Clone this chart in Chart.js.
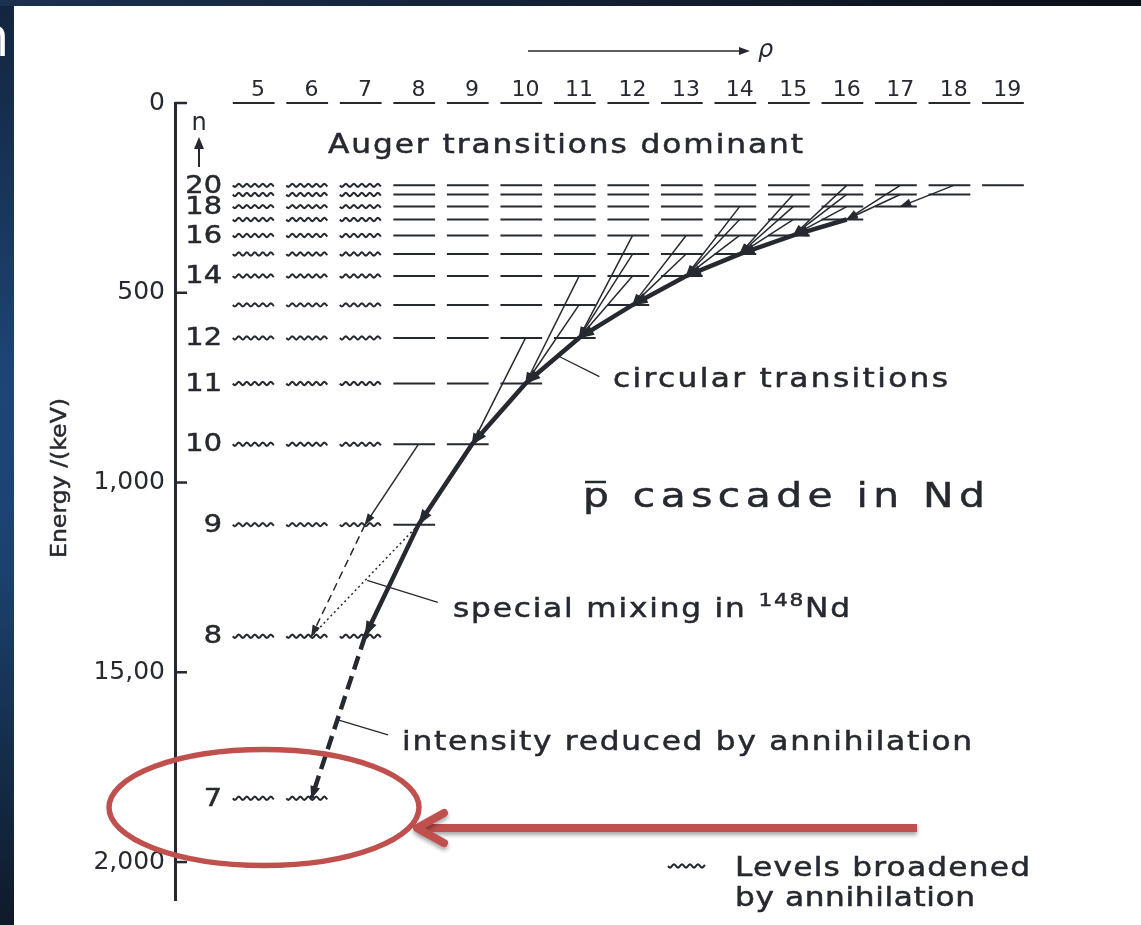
<!DOCTYPE html>
<html>
<head>
<meta charset="utf-8">
<script src="https://cdn.jsdelivr.net/npm/chart.js@4.4.1/dist/chart.umd.min.js"></script>
<style>
  html, body { margin: 0; padding: 0; }
  body {
    width: 1141px; height: 925px; overflow: hidden; position: relative;
    background: linear-gradient(to bottom, #14243d 0%, #1d4677 42%, #1b416e 62%, #0f1a29 100%);
  }
  #topband { position: absolute; left: 0; top: 0; width: 1141px; height: 6px;
    background: linear-gradient(to right, #1b3150, #0b0f17); }
  #panel { position: absolute; left: 14px; top: 6px; right: 0; bottom: 0; background: #fff; }
  #cascade { position: absolute; left: 0; top: 0; }
</style>
</head>
<body>
<div id="topband"></div>
<div id="panel"></div>
<canvas id="cascade" width="1141" height="925"></canvas>
<script>
// principal quantum number of each level row and its energy in keV (0 at the top)
const levelN = [20, 19, 18, 17, 16, 15, 14, 13, 12, 11, 10, 9, 8, 7];
const levelE = [217, 241, 273, 307, 349, 398, 456, 532, 619, 739, 899, 1111, 1405, 1832];
const labelledN = [20, 18, 16, 14, 12, 11, 10, 9, 8, 7];

// angular momentum columns along the top
const columnL = [5, 6, 7, 8, 9, 10, 11, 12, 13, 14, 15, 16, 17, 18, 19];
const columnLabels = ['5', '6', '7', '8', '9', '10', '11', '12', '13', '14', '15', '16', '17', '18', '19'];
const broadenedMaxL = 7;   // levels with l <= 7 are drawn wavy

const energyTicks = [0, 500, 1000, 1500, 2000];
const energyTickLabels = ['0', '500', '1,000', '15,00', '2,000'];

// transitions as [n, l] points
const circularPath = [[17, 16], [16, 15], [15, 14], [14, 13], [13, 12], [12, 11], [11, 10], [10, 9], [9, 8], [8, 7]];
const annihilationStep = [[8, 7], [7, 6]];
const feedLines = [
  [[10, 8], [9, 7]],
  [[12, 10], [10, 9]],
  [[13, 11], [11, 10]], [[14, 11], [11, 10]],
  [[14, 12], [12, 11]], [[15, 12], [12, 11]], [[16, 12], [12, 11]],
  [[15, 13], [13, 12]], [[16, 13], [13, 12]],
  [[16, 14], [14, 13]], [[17, 14], [14, 13]], [[18, 14], [14, 13]],
  [[17, 15], [15, 14]], [[18, 15], [15, 14]], [[19, 15], [15, 14]],
  [[18, 16], [16, 15]], [[19, 16], [16, 15]], [[20, 16], [16, 15]],
  [[19, 17], [17, 16]], [[20, 17], [17, 16]],
  [[20, 18], [18, 17]]
];
const dashedLines = [[[9, 7], [8, 6]]];
const dottedLines = [[[9, 8], [8, 6]]];

// leader lines for the notes, in (l, keV)
const leaders = [
  [[10.60, 666], [11.38, 721]],
  [[7.04, 1258], [8.36, 1316]],
  [[6.48, 1625], [7.43, 1665]]
];

const INK = '#26292f';
const FONT = '"DejaVu Sans", sans-serif';
const SEG_L = 0.47, SEG_R = 0.31;   // level segment extent around a column

function energyOf(n) { return levelE[levelN.indexOf(n)]; }

function straightRow(e, ls) {
  const data = [];
  ls.forEach(l => {
    data.push({ x: l - SEG_L, y: e }, { x: l + SEG_R, y: e }, { x: l + 0.4, y: null });
  });
  return { data, borderColor: INK, borderWidth: 2, pointRadius: 0, spanGaps: false, clip: false };
}

function path(points, width, dash, head) {
  return {
    data: points.map(([n, l]) => ({ x: l, y: energyOf(n) })),
    borderColor: INK, borderWidth: width, borderDash: dash, pointRadius: 0, clip: false,
    borderCapStyle: 'butt', borderJoinStyle: 'miter',
    arrowLen: head[0], arrowHalf: head[1]
  };
}

const datasets = [];
datasets.push(straightRow(0, columnL));
levelN.forEach((n, i) => {
  datasets.push(straightRow(levelE[i], columnL.filter(l => l > broadenedMaxL && l < n)));
});
datasets.push(path(circularPath, 4.5, [], [15, 5.5]));
datasets.push(path(annihilationStep, 4.5, [14, 7], [12, 5]));
feedLines.forEach(p => datasets.push(path(p, 1.5, [], [11, 4])));
dashedLines.forEach(p => datasets.push(path(p, 1.5, [8, 5], [11, 4])));
dottedLines.forEach(p => datasets.push(path(p, 1.5, [2, 3], [0, 0])));

function wave(ctx, x0, x1, yy) {
  ctx.beginPath();
  for (let px = x0; px <= x1; px += 1) {
    const dy = 1.6 * Math.sin((px - x0) / 8 * 2 * Math.PI);
    if (px === x0) ctx.moveTo(px, yy + dy); else ctx.lineTo(px, yy + dy);
  }
  ctx.stroke();
}

function arrowHead(ctx, x0, y0, x1, y1, len, half) {
  const a = Math.atan2(y1 - y0, x1 - x0);
  ctx.save();
  ctx.translate(x1, y1);
  ctx.rotate(a);
  ctx.beginPath();
  ctx.moveTo(1, 0);
  ctx.lineTo(-len, half);
  ctx.lineTo(-len, -half);
  ctx.closePath();
  ctx.fill();
  ctx.restore();
}

// wide lettering: glyphs stretched sideways, then spaced out to the given width.
// runs are [text, size, rise]
function spaced(ctx, runs, x, base, width, maxStretch) {
  ctx.letterSpacing = '0px';
  let natural = 0, count = 0;
  const widths = runs.map(r => {
    ctx.font = r[1] + 'px ' + FONT;
    const w = ctx.measureText(r[0]).width;
    natural += w; count += r[0].length;
    return w;
  });
  const stretch = Math.min(width / natural, maxStretch || 1.2);
  const ls = (width - natural * stretch) / (count - 1) / stretch;
  ctx.save();
  ctx.translate(x, base);
  ctx.scale(stretch, 1);
  ctx.lineWidth = 0.5;
  let cx = 0;
  runs.forEach((r, i) => {
    ctx.font = r[1] + 'px ' + FONT;
    ctx.letterSpacing = ls + 'px';
    ctx.fillText(r[0], cx, -(r[2] || 0));
    ctx.strokeText(r[0], cx, -(r[2] || 0));
    cx += widths[i] + ls * r[0].length;
  });
  ctx.restore();
  ctx.letterSpacing = '0px';
}

const cascadeArt = {
  id: 'cascadeArt',
  beforeDatasetsDraw(chart) {
    const { ctx, scales: { x, y } } = chart;
    ctx.save();
    ctx.strokeStyle = INK;
    ctx.lineWidth = 2;
    levelN.forEach((n, i) => {
      columnL.filter(l => l <= broadenedMaxL && l < n).forEach(l => {
        wave(ctx, x.getPixelForValue(l - SEG_L), x.getPixelForValue(l + SEG_R), y.getPixelForValue(levelE[i]));
      });
    });
    ctx.restore();
  },
  afterDatasetsDraw(chart) {
    const ctx = chart.ctx;
    ctx.save();
    ctx.fillStyle = INK;
    chart.data.datasets.forEach((ds, i) => {
      if (!ds.arrowLen) return;
      const pts = chart.getDatasetMeta(i).data;
      for (let j = 1; j < pts.length; j++) {
        arrowHead(ctx, pts[j - 1].x, pts[j - 1].y, pts[j].x, pts[j].y, ds.arrowLen, ds.arrowHalf);
      }
    });
    ctx.restore();
  },
  afterDraw(chart) {
    const { ctx, scales: { x, y } } = chart;
    const ax = chart.chartArea.left;
    ctx.save();
    ctx.strokeStyle = INK;
    ctx.fillStyle = INK;

    // inward ticks on the energy axis
    ctx.lineWidth = 2.5;
    energyTicks.forEach(v => {
      const yy = y.getPixelForValue(v);
      ctx.beginPath(); ctx.moveTo(ax, yy); ctx.lineTo(ax + 12, yy); ctx.stroke();
    });

    // n labels
    ctx.font = '24px ' + FONT;
    ctx.textAlign = 'right';
    ctx.textBaseline = 'middle';
    ctx.lineWidth = 0.5;
    labelledN.forEach(n => {
      ctx.save();
      ctx.translate(222, y.getPixelForValue(energyOf(n)) + 1);
      ctx.scale(1.2, 1);
      ctx.fillText(String(n), 0, 0);
      ctx.strokeText(String(n), 0, 0);
      ctx.restore();
    });

    // n with upward arrow
    ctx.textAlign = 'center';
    ctx.fillText('n', 199, 124);
    ctx.lineWidth = 2;
    ctx.beginPath(); ctx.moveTo(199, 167); ctx.lineTo(199, 146); ctx.stroke();
    ctx.beginPath(); ctx.moveTo(199, 137); ctx.lineTo(194, 149); ctx.lineTo(204, 149); ctx.closePath(); ctx.fill();

    // rho arrow over the columns
    ctx.lineWidth = 1.5;
    ctx.beginPath(); ctx.moveTo(528, 51); ctx.lineTo(742, 51); ctx.stroke();
    ctx.beginPath(); ctx.moveTo(750, 51); ctx.lineTo(739, 47); ctx.lineTo(739, 55); ctx.closePath(); ctx.fill();
    ctx.font = 'italic 24px ' + FONT;
    ctx.textAlign = 'left';
    ctx.textBaseline = 'alphabetic';
    ctx.fillText('\u03c1', 758, 57);

    // energy axis title
    ctx.save();
    ctx.translate(66, 478);
    ctx.rotate(-Math.PI / 2);
    spaced(ctx, [['Energy /(keV)', 22]], -80, 0, 160, 1.1);
    ctx.restore();

    // notes
    spaced(ctx, [['Auger transitions dominant', 26]], 328, 153, 475);
    spaced(ctx, [['circular transitions', 26]], 613, 387, 335);
    spaced(ctx, [['p', 34], [' cascade in Nd', 34]], 583, 507, 402);
    ctx.lineWidth = 2.5;
    ctx.beginPath(); ctx.moveTo(585, 482); ctx.lineTo(606, 482); ctx.stroke();
    spaced(ctx, [['special mixing in ', 26], ['148', 18, 11], ['Nd', 26]], 453, 617, 397);
    spaced(ctx, [['intensity reduced by annihilation', 26]], 402, 750, 570);

    ctx.lineWidth = 1.3;
    leaders.forEach(([a, b]) => {
      ctx.beginPath();
      ctx.moveTo(x.getPixelForValue(a[0]), y.getPixelForValue(a[1]));
      ctx.lineTo(x.getPixelForValue(b[0]), y.getPixelForValue(b[1]));
      ctx.stroke();
    });

    // key for broadened levels
    ctx.lineWidth = 2;
    wave(ctx, 668, 705, 866);
    spaced(ctx, [['Levels broadened', 26]], 735, 876, 295);
    spaced(ctx, [['by annihilation', 26]], 735, 906, 240);

    // highlight around n = 7
    ctx.strokeStyle = '#c0504d';
    ctx.lineWidth = 5.5;
    ctx.beginPath();
    ctx.ellipse(264, 807.5, 155, 58, 0, 0, Math.PI * 2);
    ctx.stroke();

    ctx.save();
    ctx.shadowColor = 'rgba(0,0,0,0.35)';
    ctx.shadowBlur = 4;
    ctx.shadowOffsetY = 3;
    ctx.lineWidth = 8;
    ctx.lineCap = 'butt';
    ctx.beginPath(); ctx.moveTo(420, 828); ctx.lineTo(917, 828); ctx.stroke();
    ctx.lineCap = 'round';
    ctx.lineJoin = 'round';
    ctx.beginPath(); ctx.moveTo(444, 813); ctx.lineTo(417, 828); ctx.lineTo(444, 843); ctx.stroke();
    ctx.restore();

    // edge of the slide title
    ctx.fillStyle = '#ffffff';
    ctx.font = '56px "Open Sans", sans-serif';
    ctx.textAlign = 'left';
    ctx.fillText('n', -25, 56);
    ctx.restore();
  }
};

new Chart(document.getElementById('cascade'), {
  type: 'line',
  data: { datasets },
  options: {
    responsive: false,
    animation: false,
    events: [],
    layout: { padding: { left: 0, top: 0, right: 107, bottom: 21 } },
    plugins: { legend: { display: false }, tooltip: { enabled: false } },
    scales: {
      x: {
        type: 'linear', position: 'top', min: 3.45, max: 19.5,
        afterBuildTicks: s => { s.ticks = columnL.map(v => ({ value: v })); },
        afterFit: s => { s.height = 103; },
        ticks: {
          autoSkip: false, maxRotation: 0, padding: 0, color: INK,
          font: { family: FONT, size: 22 },
          callback: v => columnLabels[columnL.indexOf(v)]
        },
        grid: { display: false, drawTicks: false },
        border: { display: false }
      },
      y: {
        type: 'linear', reverse: true, min: 0, max: 2100,
        afterBuildTicks: s => { s.ticks = energyTicks.map(v => ({ value: v })); },
        afterFit: s => { s.width = 175; },
        ticks: {
          padding: 10, color: INK,
          font: { family: FONT, size: 25 },
          callback: v => energyTickLabels[energyTicks.indexOf(v)]
        },
        grid: { display: false, drawTicks: false },
        border: { display: true, color: INK, width: 3 }
      }
    }
  },
  plugins: [cascadeArt]
});
</script>
</body>
</html>
